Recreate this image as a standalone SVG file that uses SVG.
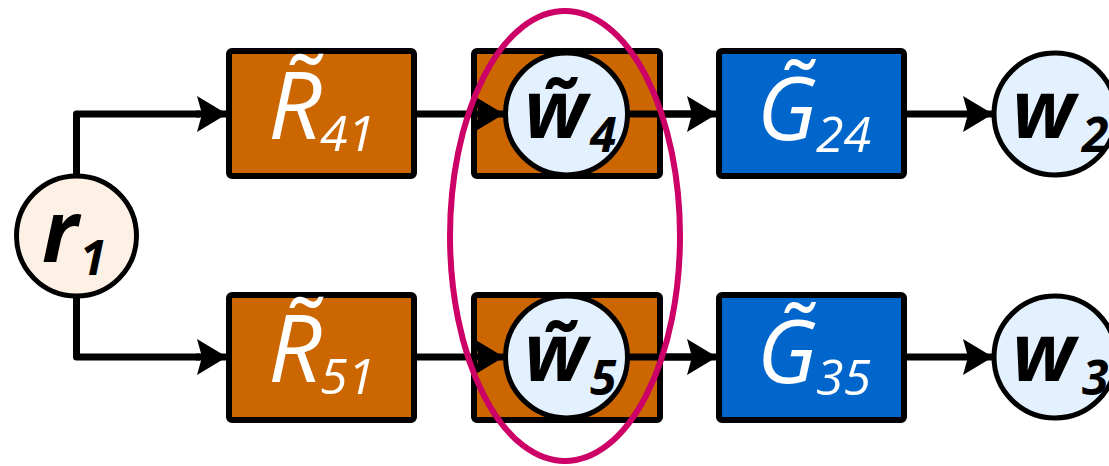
<svg xmlns="http://www.w3.org/2000/svg" width="1109" height="466" viewBox="0 0 1109 466">
  <style>
    .box { stroke: #000; stroke-width: 6; }
    .rbox { fill: #CC6600; }
    .gbox { fill: #0066CC; }
    .sig { fill: #E3F0FE; stroke: #000; stroke-width: 5; }
    .src { fill: #FDF0E5; stroke: #000; stroke-width: 5; }
    .wire { fill: none; stroke: #000; stroke-width: 7; stroke-linejoin: round; }
    .arrow { fill: none; stroke: #000; stroke-width: 7; marker-end: url(#head); }
    .tf { font-family: "Open Sans", "Liberation Sans", sans-serif; font-style: italic; fill: #fff; }
    .tf .main { font-size: 94px; }
    .tf .g { font-size: 88px; }
    .tf .sub { font-size: 50px; }
    .var { font-family: "Open Sans", "Liberation Sans", sans-serif; font-style: italic; font-weight: bold; fill: #000; }
    .var .main { font-size: 80px; }
    .var .sub { font-size: 48px; }
  </style>
  <defs>
    <marker id="head" markerUnits="userSpaceOnUse" markerWidth="32" markerHeight="36" refX="30" refY="18" orient="auto" overflow="visible">
      <path d="M0,0 L30,18 L0,36 L5,18 Z" fill="#000"/>
    </marker>
  </defs>

  <!-- connectors -->
  <g id="connectors">
    <path class="wire" d="M76.5,176 V114 H200"/>
    <path class="wire" d="M76.5,296 V357 H200"/>
    <line class="arrow" x1="196" y1="114" x2="227" y2="114"/>
    <line class="arrow" x1="196" y1="357" x2="227" y2="357"/>
    <line class="arrow" x1="415" y1="114" x2="504" y2="114"/>
    <line class="arrow" x1="415" y1="357" x2="504" y2="357"/>
    <line class="arrow" x1="628" y1="114" x2="717" y2="114"/>
    <line class="arrow" x1="628" y1="357" x2="717" y2="357"/>
    <line class="arrow" x1="905" y1="114" x2="993" y2="114"/>
    <line class="arrow" x1="905" y1="357" x2="993" y2="357"/>
  </g>

  <!-- reference input -->
  <g id="r1">
    <circle class="src" cx="76.5" cy="236" r="60"/>
    <text class="var" x="42" y="262"><tspan class="main" style="font-size:86px">r</tspan><tspan class="sub" x="80" y="275">1</tspan></text>
  </g>

  <!-- controller blocks -->
  <g id="R41">
    <rect class="box rbox" x="229" y="51" width="185" height="125" rx="3"/>
    <text class="tf" x="268" y="139"><tspan class="main">R̃</tspan><tspan class="sub" x="320" y="151">41</tspan></text>
  </g>
  <g id="R51">
    <rect class="box rbox" x="229" y="295" width="185" height="125" rx="3"/>
    <text class="tf" x="268" y="382"><tspan class="main">R̃</tspan><tspan class="sub" x="320" y="394">51</tspan></text>
  </g>

  <!-- internal signal blocks -->
  <g id="W4">
    <rect class="box rbox" x="474" y="51" width="186" height="125" rx="3"/>
  </g>
  <g id="W5">
    <rect class="box rbox" x="474" y="295" width="186" height="125" rx="3"/>
  </g>

  <!-- wires crossing the internal blocks -->
  <g id="connectors-inner">
    <line x1="628" y1="114" x2="700" y2="114" stroke="#000" stroke-width="7"/>
    <line x1="628" y1="357" x2="700" y2="357" stroke="#000" stroke-width="7"/>
    <line class="arrow" x1="474" y1="114" x2="504" y2="114"/>
    <line class="arrow" x1="474" y1="357" x2="504" y2="357"/>
  </g>

  <g id="w4">
    <circle class="sig" cx="566.5" cy="114" r="61"/>
    <text class="var" x="524" y="138"><tspan class="main">w̃</tspan><tspan class="sub" x="590" y="152">4</tspan></text>
  </g>
  <g id="w5">
    <circle class="sig" cx="566.5" cy="357" r="61"/>
    <text class="var" x="524" y="381"><tspan class="main">w̃</tspan><tspan class="sub" x="590" y="395">5</tspan></text>
  </g>

  <!-- module blocks -->
  <g id="G24">
    <rect class="box gbox" x="719" y="51" width="185" height="125" rx="3"/>
    <text class="tf" x="757" y="140"><tspan class="g">G̃</tspan><tspan class="sub" x="816" y="152">24</tspan></text>
  </g>
  <g id="G35">
    <rect class="box gbox" x="719" y="295" width="185" height="125" rx="3"/>
    <text class="tf" x="757" y="383"><tspan class="g">G̃</tspan><tspan class="sub" x="816" y="395">35</tspan></text>
  </g>

  <!-- output signals -->
  <g id="w2">
    <circle class="sig" cx="1055" cy="114" r="61"/>
    <text class="var" x="1012" y="138"><tspan class="main">w</tspan><tspan class="sub" x="1082" y="152">2</tspan></text>
  </g>
  <g id="w3">
    <circle class="sig" cx="1055" cy="357" r="61"/>
    <text class="var" x="1012" y="381"><tspan class="main">w</tspan><tspan class="sub" x="1082" y="395">3</tspan></text>
  </g>

  <!-- grouping of the internal signals -->
  <g id="selection">
    <ellipse cx="565" cy="236" rx="115" ry="225" fill="none" stroke="#CC0066" stroke-width="6"/>
  </g>
</svg>
